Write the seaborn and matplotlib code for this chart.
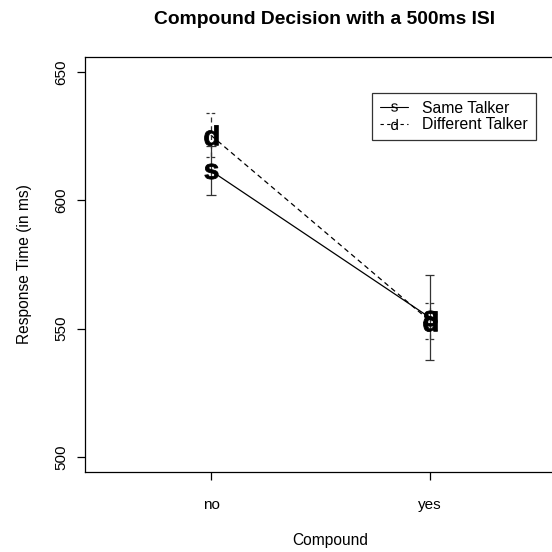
import matplotlib
matplotlib.use("Agg")
import matplotlib.pyplot as plt
import seaborn as sns
import pandas as pd
import numpy as np
from matplotlib.lines import Line2D

compound = ["no", "yes"]
same_mean = [611.5, 554.3]
same_err = [9.5, 16.5]
diff_mean = [625.3, 553.0]
diff_err = [8.5, 7.0]
y_ticks = [500, 550, 600, 650]

sns.set_style("white")
plt.rcParams['font.family'] = ['Liberation Sans', 'DejaVu Sans']
plt.rcParams['text.color'] = 'black'
plt.rcParams['axes.labelcolor'] = 'black'
plt.rcParams['xtick.color'] = 'black'
plt.rcParams['ytick.color'] = 'black'
plt.rcParams['mathtext.fontset'] = 'custom'
plt.rcParams['mathtext.sf'] = 'Liberation Sans:bold'
plt.rcParams['mathtext.rm'] = 'Liberation Sans'

pos = np.arange(1, len(compound) + 1)
df = pd.DataFrame({
    "pos": np.concatenate([pos, pos]),
    "rt": same_mean + diff_mean,
    "talker": ["Same Talker"] * len(pos) + ["Different Talker"] * len(pos),
})

fig = plt.figure(figsize=(5.52, 5.52), dpi=100)
ax = fig.add_axes([85 / 552, 1 - 472 / 552, (575 - 85) / 552, (472 - 57) / 552])

sns.lineplot(data=df, x="pos", y="rt", hue="talker", style="talker",
             palette={"Same Talker": "black", "Different Talker": "black"},
             dashes={"Same Talker": "", "Different Talker": (4, 3)},
             linewidth=0.9, legend=False, ax=ax, estimator=None)

cap_w = 4.5 / 219.0
ecol = '#333333'
sm = np.array(same_mean); se = np.array(same_err)
dm = np.array(diff_mean); de = np.array(diff_err)
ax.vlines(pos, sm - se, sm + se, color=ecol, linewidth=0.9)
ax.hlines(np.concatenate([sm - se, sm + se]), np.concatenate([pos, pos]) - cap_w,
          np.concatenate([pos, pos]) + cap_w, color=ecol, linewidth=0.9)
ax.vlines(pos, dm - de, dm + de, color=ecol, linewidth=0.9, linestyle=(0, (4, 3)))
ax.hlines(np.concatenate([dm - de, dm + de]), np.concatenate([pos, pos]) - cap_w,
          np.concatenate([pos, pos]) + cap_w, color=ecol, linewidth=0.9,
          linestyle=(0, (2.5, 2)))

ax.plot(pos, same_mean, linestyle='none', marker=r'$\mathsf{s}$',
        markersize=11, markeredgewidth=0.6, color='black')
ax.plot(pos, diff_mean, linestyle='none', marker=r'$\mathsf{d}$',
        markersize=14.5, markeredgewidth=0.6, color='black')

px_per_unit_x = 219.0
ax.set_xlim(1 - (211 - 85) / px_per_unit_x, 2 + (575 - 430) / px_per_unit_x)
ax.set_ylim(494.2, 655.8)

ax.set_xticks(pos)
ax.set_xticklabels(compound, fontsize=11)
ax.set_yticks(y_ticks)
ax.set_yticklabels([str(t) for t in y_ticks], fontsize=11, rotation=90, va='center')
ax.tick_params(axis='both', direction='out', length=6, width=0.9, color='black',
               bottom=True, left=True)
ax.tick_params(axis='x', pad=13)
ax.tick_params(axis='y', pad=6)

for s in ax.spines.values():
    s.set_color('black')
    s.set_linewidth(0.9)

ax.set_xlabel("Compound", fontsize=11.2, labelpad=15)
ax.set_ylabel("Response Time (in ms)", fontsize=11.2, labelpad=16)
fig.text(325 / 552, 1 - 20 / 552, "Compound Decision with a 500ms ISI",
         ha='center', va='center', fontsize=13.9, fontweight='bold')

handles = [
    Line2D([0], [0], color='black', linestyle='-', linewidth=0.8,
           marker=r'$\mathrm{s}$', markersize=6, markeredgewidth=0),
    Line2D([0], [0], color='black', linestyle=(0, (3, 3)), linewidth=0.8,
           marker=r'$\mathrm{d}$', markersize=8, markeredgewidth=0),
]
leg = ax.legend(handles, ["Same Talker", "Different Talker"],
                loc='upper left', bbox_to_anchor=((372 - 85) / 490, 1 - (93 - 57) / 415),
                frameon=True, fancybox=False, fontsize=11.3, handlelength=1.8,
                borderpad=0.5, labelspacing=0.1, handletextpad=0.9,
                borderaxespad=0)
leg.get_frame().set_edgecolor('black')
leg.get_frame().set_linewidth(0.9)

fig.savefig("out.png", dpi=100, facecolor='white')
